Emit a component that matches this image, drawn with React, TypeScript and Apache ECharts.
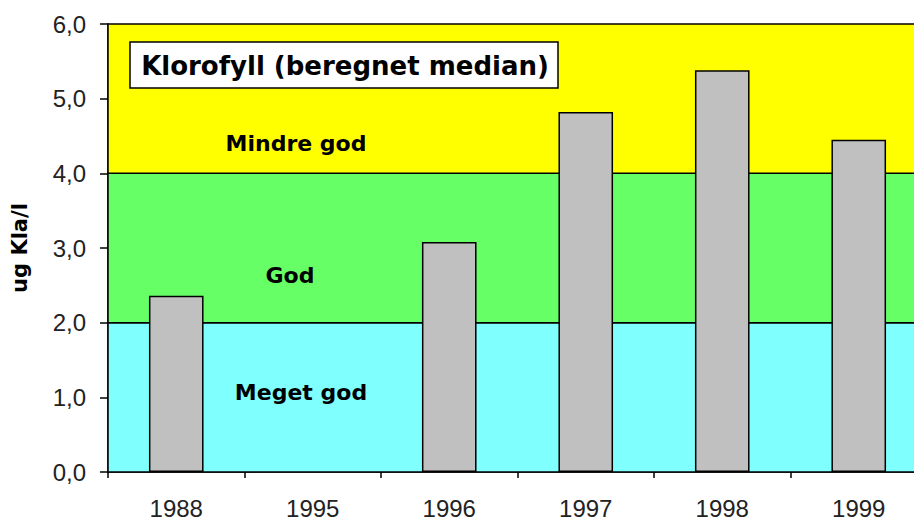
import React, { useEffect, useRef } from "react";
import * as echarts from "echarts";

const years = ["1988", "1995", "1996", "1997", "1998", "1999"];
const chlorophyll: (number | null)[] = [2.36, null, 3.08, 4.82, 5.38, 4.45];
const yTicks = [0, 1, 2, 3, 4, 5, 6];
const zones = [
  { name: "Meget god", from: 0, to: 2, color: "#80FFFF" },
  { name: "God", from: 2, to: 4, color: "#66FF66" },
  { name: "Mindre god", from: 4, to: 6, color: "#FFFF00" },
];
const titleText = "Klorofyll (beregnet median)";
const yName = "ug Kla/l";

export default function App() {
  const ref = useRef<HTMLDivElement>(null);
  useEffect(() => {
    if (!ref.current) return;
    const chart = echarts.init(ref.current, null, { renderer: "svg" });
    const labelFont = "'Liberation Sans', Arial, sans-serif";
    const boldFont = "'DejaVu Sans', sans-serif";
    chart.setOption({
      animation: false,
      backgroundColor: "#ffffff",
      grid: {
        left: 108,
        top: 24,
        width: 819,
        height: 448,
        containLabel: false,
        outerBoundsMode: "none",
      },
      xAxis: {
        type: "category",
        data: years,
        axisLine: { lineStyle: { color: "#000", width: 1.5 } },
        axisTick: { show: true, length: 6, lineStyle: { color: "#000", width: 1.5 } },
        axisLabel: { color: "#222", fontFamily: labelFont, fontSize: 24, margin: 24 },
      },
      yAxis: {
        type: "value",
        min: yTicks[0],
        max: yTicks[yTicks.length - 1],
        interval: 1,
        name: yName,
        nameLocation: "middle",
        nameRotate: 90,
        nameGap: 78,
        nameTextStyle: { fontFamily: boldFont, fontWeight: "bold", fontSize: 21, color: "#000" },
        axisLine: { show: true, lineStyle: { color: "#000", width: 1.5 } },
        axisTick: { show: true, inside: false, length: 8, lineStyle: { color: "#000", width: 1.5 } },
        splitLine: { show: false },
        axisLabel: {
          color: "#222",
          fontFamily: labelFont,
          fontSize: 24,
          margin: 22,
          formatter: (v: number) => v.toFixed(1).replace(".", ","),
        },
      },
      graphic: [
        {
          type: "rect",
          shape: { x: 130, y: 42, width: 428, height: 46 },
          style: { fill: "#fff", stroke: "#000", lineWidth: 1.5 },
          z: 100,
        },
        {
          type: "text",
          x: 345,
          y: 66,
          style: {
            text: titleText,
            fontFamily: boldFont,
            fontWeight: "bold",
            fontSize: 26,
            fill: "#000",
            align: "center",
            verticalAlign: "middle",
          },
          z: 101,
        },
        {
          type: "text",
          x: 296,
          y: 143,
          style: { text: zones[2].name, fontFamily: boldFont, fontWeight: "bold", fontSize: 22, fill: "#000", align: "center", verticalAlign: "middle" },
          z: 100,
        },
        {
          type: "text",
          x: 290,
          y: 275,
          style: { text: zones[1].name, fontFamily: boldFont, fontWeight: "bold", fontSize: 22, fill: "#000", align: "center", verticalAlign: "middle" },
          z: 100,
        },
        {
          type: "text",
          x: 301,
          y: 392,
          style: { text: zones[0].name, fontFamily: boldFont, fontWeight: "bold", fontSize: 22, fill: "#000", align: "center", verticalAlign: "middle" },
          z: 100,
        },
      ],
      series: [
        {
          type: "bar",
          data: chlorophyll.map((v) => (v === null ? "-" : v)),
          barWidth: "40%",
          itemStyle: { color: "#C0C0C0", borderColor: "#000", borderWidth: 1.5 },
          z: 3,
          markArea: {
            silent: true,
            z: 1,
            data: zones.map((zn) => [
              { yAxis: zn.from, itemStyle: { color: zn.color, borderColor: "#000", borderWidth: 1.5 } },
              { yAxis: zn.to },
            ]),
            label: { show: false },
          },
        },
      ],
    });
    return () => chart.dispose();
  }, []);
  return (
    <div
      ref={ref}
      style={{ position: "fixed", left: 0, top: 0, width: 914, height: 520 }}
    />
  );
}
